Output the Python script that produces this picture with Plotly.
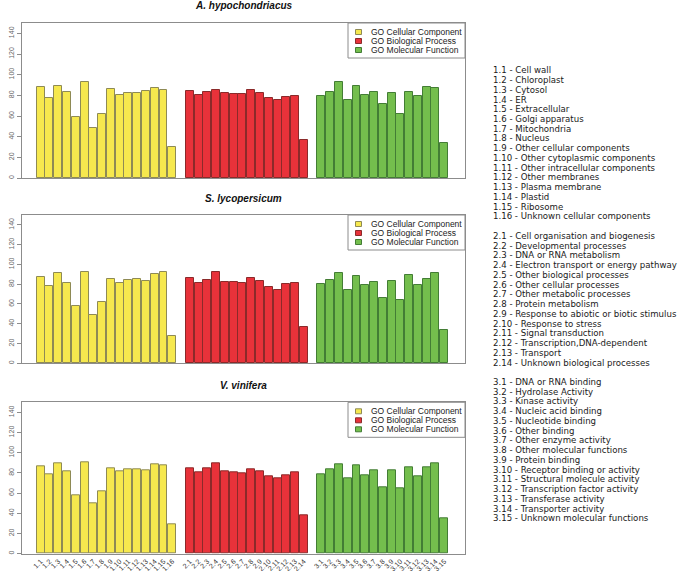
import plotly.graph_objects as go

# ---------------- data ----------------
species = ["A. hypochondriacus", "S. lycopersicum", "V. vinifera"]

group_names = ["GO Cellular Component", "GO Biological Process", "GO Molecular Function"]

cc_names = ["Cell wall", "Chloroplast", "Cytosol", "ER", "Extracellular", "Golgi apparatus",
            "Mitochondria", "Nucleus", "Other cellular components",
            "Other cytoplasmic components", "Other intracellular components",
            "Other membranes", "Plasma membrane", "Plastid", "Ribosome",
            "Unknown cellular components"]
bp_names = ["Cell organisation and biogenesis", "Developmental processes",
            "DNA or RNA metabolism", "Electron transport or energy pathway",
            "Other biological processes", "Other cellular processes",
            "Other metabolic processes", "Protein metabolism",
            "Response to abiotic or biotic stimulus", "Response to stress",
            "Signal transduction", "Transcription,DNA-dependent", "Transport",
            "Unknown biological processes"]
mf_names = ["DNA or RNA binding", "Hydrolase Activity", "Kinase activity",
            "Nucleic acid binding", "Nucleotide binding", "Other binding",
            "Other enzyme activity", "Other molecular functions", "Protein binding",
            "Receptor binding or activity", "Structural molecule activity",
            "Transcription factor activity", "Transferase activity",
            "Transporter activity", "Unknown molecular functions"]

# percentages per species
cc_A = [88.4, 77.1, 89.4, 83.2, 58.9, 92.6, 48.6, 61.9, 86.5, 80.3, 82.3, 82.3, 84.2, 87.4, 85.5, 30.1]
bp_A = [84.5, 80.6, 82.9, 84.9, 81.9, 81.0, 81.3, 85.2, 82.3, 77.4, 75.5, 78.4, 79.7, 36.6]
mf_A = [79.0, 83.6, 93.0, 75.1, 89.1, 80.3, 83.2, 71.3, 82.3, 62.2, 82.9, 79.7, 88.1, 87.1, 33.7]

cc_S = [87.8, 78.3, 91.5, 81.7, 57.6, 91.9, 48.8, 62.0, 85.4, 81.4, 84.4, 85.4, 83.7, 90.2, 92.5, 27.8]
bp_S = [86.4, 81.7, 84.7, 92.2, 82.0, 82.0, 81.4, 85.8, 83.4, 77.6, 74.6, 80.7, 81.4, 36.6]
mf_S = [80.3, 84.7, 91.5, 74.6, 88.8, 79.3, 82.7, 66.1, 83.1, 64.4, 89.5, 79.3, 85.4, 91.2, 33.6]

cc_V = [86.4, 78.4, 89.4, 82.1, 57.5, 91.0, 50.2, 62.1, 84.4, 81.4, 83.4, 84.1, 83.1, 88.4, 88.0, 29.6]
bp_V = [85.0, 81.1, 85.0, 90.0, 81.4, 80.7, 80.1, 84.1, 82.1, 77.1, 74.8, 78.1, 80.4, 38.2]
mf_V = [79.1, 83.4, 89.0, 75.1, 88.0, 78.1, 83.1, 66.1, 83.1, 64.5, 86.0, 76.4, 85.4, 89.4, 35.5]

y_ticks = [0, 20, 40, 60, 80, 100, 120, 140]

# ---------------- styles ----------------
W, H = 682, 571
fills = ["#F6E84E", "#E8323A", "#74BE4D"]
edges = ["#8E8A55", "#8B2A2A", "#437D35"]
box_col = "#8C8C8C"

def px_x(p):
    return p / W

def px_y(p):
    return 1 - p / H

panels_vals = [[cc_A, bp_A, mf_A], [cc_S, bp_S, mf_S], [cc_V, bp_V, mf_V]]
panel_px = [(23, 178), (215, 363.3), (402.3, 553.7)]   # top, bottom in pixels
plot_left, plot_right = 22, 465

# codes & positions
group_lists = [cc_names, bp_names, mf_names]
codes = []
positions = []
offset = 0
for gi, names in enumerate(group_lists):
    grp_codes = [f"{gi + 1}.{k + 1}" for k in range(len(names))]
    grp_pos = [offset + k for k in range(len(names))]
    codes.append(grp_codes)
    positions.append(grp_pos)
    offset += len(names) + 1

all_pos = [p for g in positions for p in g]
all_codes = [c for g in codes for c in g]

fig = go.Figure()
layout = dict(
    template="none",
    width=W, height=H, autosize=False,
    margin=dict(l=0, r=0, t=0, b=0, pad=0),
    paper_bgcolor="white", plot_bgcolor="white",
    showlegend=False,
    font=dict(family="Liberation Sans, Arial, sans-serif", color="#222"),
)
annotations = []
shapes = []

for pi in range(3):
    sfx = "" if pi == 0 else str(pi + 1)
    top, bot = panel_px[pi]
    for gi in range(3):
        fig.add_trace(go.Bar(
            x=positions[gi], y=panels_vals[pi][gi],
            width=0.91,
            marker=dict(color=fills[gi], line=dict(color=edges[gi], width=1)),
            name=group_names[gi],
            xaxis="x" + sfx, yaxis="y" + sfx,
            showlegend=False,
            hovertemplate="%{y}<extra></extra>",
        ))
    xa = dict(
        domain=[px_x(plot_left), px_x(plot_right)],
        range=[-2.13, 48.37],
        anchor="y" + sfx,
        automargin=False,
        showgrid=False, zeroline=False,
        showline=True, mirror=True, linecolor=box_col, linewidth=1,
        ticks="",
        showticklabels=(pi == 2),
    )
    if pi == 2:
        xa.update(tickmode="array", tickvals=all_pos, ticktext=all_codes,
                  tickangle=-45, tickfont=dict(size=7, color="#333"))
    ya = dict(
        domain=[px_y(bot), px_y(top)],
        range=[0, 150],
        anchor="x" + sfx,
        automargin=False,
        showgrid=False, zeroline=False,
        showline=True, mirror=True, linecolor=box_col, linewidth=1,
        ticks="outside", ticklen=4, tickcolor=box_col,
        tickmode="array", tickvals=y_ticks,
        tickangle=-90,
        tickfont=dict(size=7, color="#666"),
    )
    layout["xaxis" + sfx] = xa
    layout["yaxis" + sfx] = ya

    # title
    title_y = [6, 198, 385][pi]
    annotations.append(dict(
        text=f"<b><i>{species[pi]}</i></b>", x=px_x((plot_left + plot_right) / 2),
        y=px_y(title_y), xref="paper", yref="paper", showarrow=False,
        xanchor="center", yanchor="middle",
        font=dict(size=10, color="#111", family="Liberation Sans, Arial, sans-serif"),
    ))

    # legend box
    lg_left, lg_top, lg_h = 348, top, 35
    shapes.append(dict(type="rect", xref="paper", yref="paper",
                       x0=px_x(lg_left), x1=px_x(plot_right),
                       y0=px_y(lg_top + lg_h), y1=px_y(lg_top),
                       line=dict(color=box_col, width=1), fillcolor="white", layer="above"))
    for gi in range(3):
        ry = lg_top + 9 + 9 * gi
        shapes.append(dict(type="rect", xref="paper", yref="paper",
                           x0=px_x(355.5), x1=px_x(361.5),
                           y0=px_y(ry + 2.5), y1=px_y(ry - 2.5),
                           line=dict(color=edges[gi], width=1), fillcolor=fills[gi],
                           layer="above"))
        annotations.append(dict(
            text=group_names[gi], x=px_x(369), y=px_y(ry),
            xref="paper", yref="paper", showarrow=False,
            xanchor="left", yanchor="middle",
            font=dict(size=8.5, color="#222", family="Liberation Sans, Arial, sans-serif"),
        ))

# right-side key list
key_lines = []
for gi, names in enumerate(group_lists):
    for k, nm in enumerate(names):
        key_lines.append(f"{codes[gi][k]} - {nm}")
    if gi < 2:
        key_lines.append("")
for li, line in enumerate(key_lines):
    if not line:
        continue
    annotations.append(dict(
        text=line, x=px_x(490.5), y=px_y(70.3 + li * 9.74),
        xref="paper", yref="paper", showarrow=False,
        xanchor="left", yanchor="middle",
        font=dict(size=8.6, color="#1a1a1a", family="DejaVu Sans"),
    ))

layout["annotations"] = annotations
layout["shapes"] = shapes
layout["bargap"] = 0
fig.update_layout(**layout)
fig.write_html(
    "out.html",
    config={"displayModeBar": False},
    post_script="document.body.style.margin='0';document.body.style.padding='0';",
)
